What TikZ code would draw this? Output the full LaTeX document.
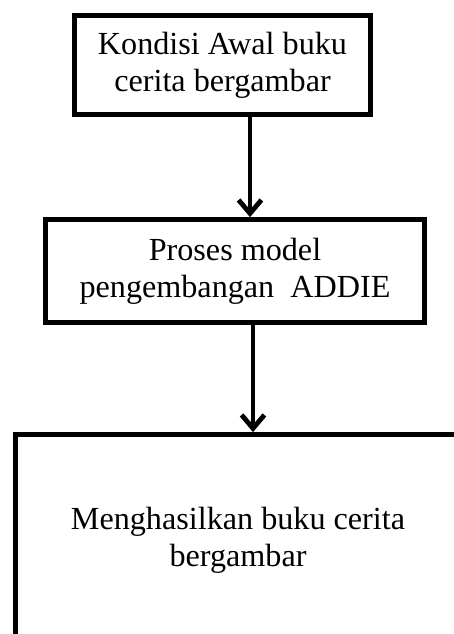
\documentclass[tikz,border=0pt]{standalone}
\usepackage{fontspec}
\setmainfont{Liberation Serif}
\usepackage{tikz}
\usetikzlibrary{positioning,arrows.meta}
\tikzset{
  flowbox/.style={draw=black, line width=1.8pt, fill=white, align=center,
    inner sep=0pt, font=\fontsize{12}{13.8}\selectfont},
  flowarrow/.style={line width=1.8pt, -{Straight Barb[length=5pt,width=8.5pt]}}
}

\begin{document}
\begin{tikzpicture}[x=0.373pt, y=-0.373pt]
        \clip (0,0) rectangle (454,634);
        \node[flowbox, minimum width=110.4pt, minimum height=36.9pt]
          (kondisi) at (222.5,65) {Kondisi Awal buku\\cerita bergambar};
        \node[flowbox, minimum width=141.4pt, minimum height=38.4pt]
          (proses) at (235,271) {Proses model\\pengembangan~~ADDIE};
        \node[flowbox, minimum width=166pt, minimum height=78.7pt]
          (hasil) at (238,540) {Menghasilkan buku cerita\\bergambar};
        % arrow lines
        \coordinate (lineA) at (250,0);
        \coordinate (lineB) at (253,0);
        \draw[flowarrow] (kondisi.south -| lineA) -- (proses.north -| lineA);
        \draw[flowarrow] (proses.south -| lineB) -- (hasil.north -| lineB);
      \end{tikzpicture}
\end{document}
